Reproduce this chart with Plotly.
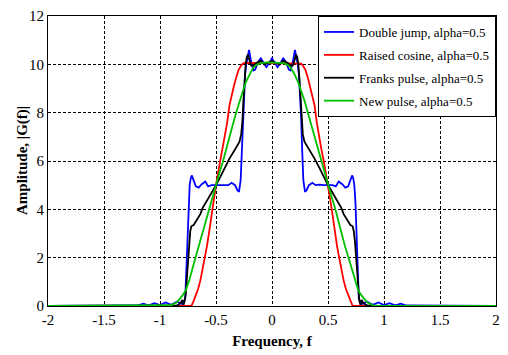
import plotly.graph_objects as go

# ---------------- data ----------------
blue_f = [-2.0, -1.2, -1.15, -1.1, -1.05, -1.0, -0.95, -0.9, -0.85, -0.8, -0.775, -0.765, -0.755,
          -0.745, -0.735, -0.725, -0.715, -0.7, -0.68, -0.655, -0.625, -0.595, -0.57, -0.54, -0.5,
          -0.46, -0.42, -0.39, -0.36, -0.33, -0.31, -0.295, -0.28, -0.27, -0.26, -0.25, -0.24, -0.23,
          -0.215, -0.205, -0.19, -0.165, -0.15, -0.125, -0.1, -0.075, -0.05, -0.025, 0.0,
          0.025, 0.05, 0.075, 0.1, 0.125, 0.15, 0.165, 0.19, 0.205, 0.215, 0.23, 0.24, 0.25, 0.26,
          0.27, 0.28, 0.295, 0.31, 0.33, 0.36, 0.39, 0.42, 0.46, 0.5, 0.54, 0.57, 0.595, 0.625,
          0.655, 0.68, 0.7, 0.715, 0.725, 0.735, 0.745, 0.755, 0.765, 0.775, 0.8, 0.85, 0.9, 0.95,
          1.0, 1.05, 1.1, 1.15, 1.2, 2.0]
blue_g = [0, 0.02, 0.1, 0.03, 0.12, 0.04, 0.15, 0.05, 0.18, 0.08, 0.3, 1.5, 3.0,
          4.3, 5.0, 5.3, 5.4, 5.2, 4.95, 4.9, 5.05, 5.15, 4.95, 5.0, 5.0,
          5.0, 5.02, 5.0, 5.1, 5.0, 4.8, 4.72, 5.2, 6.4, 7.8, 8.9, 9.6, 10.0,
          10.4, 10.6, 10.2, 9.75, 9.78, 10.1, 10.25, 10.05, 9.88, 10.05, 10.25,
          10.05, 9.88, 10.05, 10.25, 10.1, 9.78, 9.75, 10.2, 10.6, 10.4, 10.0, 9.6, 8.9, 7.8,
          6.4, 5.2, 4.72, 4.8, 5.0, 5.1, 5.0, 5.02, 5.0, 5.0, 5.0, 4.95, 5.15, 5.05,
          4.9, 4.95, 5.2, 5.4, 5.3, 5.0, 4.3, 3.0, 1.5, 0.3, 0.08, 0.18, 0.05, 0.15,
          0.04, 0.12, 0.03, 0.1, 0.02, 0]

red_f = [-2.0, -0.72, -0.7, -0.68, -0.66, -0.64, -0.62, -0.6, -0.58, -0.56, -0.54, -0.52, -0.5,
         -0.48, -0.46, -0.44, -0.42, -0.4, -0.38, -0.36, -0.34, -0.32, -0.3, -0.28, -0.26, -0.24,
         -0.2, 0.0, 0.2,
         0.24, 0.26, 0.28, 0.3, 0.32, 0.34, 0.36, 0.38, 0.4, 0.42, 0.44, 0.46, 0.48, 0.5,
         0.52, 0.54, 0.56, 0.58, 0.6, 0.62, 0.64, 0.66, 0.68, 0.7, 0.72, 2.0]
red_g = [0, 0, 0.2, 0.45, 0.7, 1.05, 1.5, 2.0, 2.5, 3.1, 3.8, 4.4, 5.0,
         5.55, 6.05, 6.5, 7.0, 7.6, 8.3, 8.75, 9.1, 9.45, 9.75, 9.92, 10.03, 10.06,
         10.06, 10.06, 10.06,
         10.06, 10.03, 9.92, 9.75, 9.45, 9.1, 8.75, 8.3, 7.6, 7.0, 6.5, 6.05, 5.55, 5.0,
         4.4, 3.8, 3.1, 2.5, 2.0, 1.5, 1.05, 0.7, 0.45, 0.2, 0, 0]

black_f = [-2.0, -0.9, -0.85, -0.82, -0.8, -0.79, -0.78, -0.77, -0.76, -0.75, -0.74, -0.73, -0.72,
           -0.7, -0.68, -0.66, -0.64, -0.62, -0.6, -0.58, -0.56, -0.54, -0.52, -0.5, -0.46, -0.42,
           -0.38, -0.34, -0.31, -0.29, -0.275, -0.265, -0.255, -0.245, -0.235, -0.225, -0.215,
           -0.2, -0.185, -0.165, -0.14, -0.1, -0.07, -0.04, 0.0,
           0.04, 0.07, 0.1, 0.14, 0.165, 0.185, 0.2, 0.215, 0.225, 0.235, 0.245, 0.255, 0.265,
           0.275, 0.29, 0.31, 0.34, 0.38, 0.42, 0.46, 0.5, 0.52, 0.54, 0.56, 0.58, 0.6, 0.62,
           0.64, 0.66, 0.68, 0.7, 0.72, 0.73, 0.74, 0.75, 0.76, 0.77, 0.78, 0.79, 0.8, 0.82,
           0.85, 0.9, 2.0]
black_g = [0, 0, 0.02, 0.1, 0.25, 0.05, 0.2, 0.5, 1.2, 2.0, 2.7, 3.1, 3.3,
           3.35, 3.5, 3.65, 3.8, 4.05, 4.2, 4.35, 4.55, 4.7, 4.85, 5.0, 5.35, 5.75,
           6.1, 6.4, 6.65, 6.8, 7.1, 7.6, 8.5, 9.4, 10.0, 10.3, 10.4,
           10.15, 9.95, 9.95, 10.05, 10.15, 10.0, 10.05, 10.15,
           10.05, 10.0, 10.15, 10.05, 9.95, 9.95, 10.15, 10.4, 10.3, 10.0, 9.4, 8.5, 7.6,
           7.1, 6.8, 6.65, 6.4, 6.1, 5.75, 5.35, 5.0, 4.85, 4.7, 4.55, 4.35, 4.2, 4.05,
           3.8, 3.65, 3.5, 3.35, 3.3, 3.1, 2.7, 2.0, 1.2, 0.5, 0.2, 0.05, 0.25, 0.1,
           0.02, 0, 0]

green_f = [-2.0, -0.95, -0.9, -0.85, -0.82, -0.8, -0.77, -0.74, -0.71, -0.68, -0.65, -0.62, -0.59,
           -0.56, -0.53, -0.5, -0.47, -0.44, -0.41, -0.38, -0.35, -0.32, -0.29, -0.26, -0.23,
           -0.2, -0.17, -0.14, -0.1, -0.05, 0.0,
           0.05, 0.1, 0.14, 0.17, 0.2, 0.23, 0.26, 0.29, 0.32, 0.35, 0.38, 0.41, 0.44, 0.47,
           0.5, 0.53, 0.56, 0.59, 0.62, 0.65, 0.68, 0.71, 0.74, 0.77, 0.8, 0.82, 0.85, 0.9,
           0.95, 2.0]
green_g = [0, 0, 0.03, 0.15, 0.3, 0.43, 0.65, 1.05, 1.55, 2.05, 2.5, 3.0, 3.55,
           4.1, 4.55, 5.0, 5.5, 5.95, 6.5, 7.0, 7.5, 8.0, 8.5, 8.9, 9.3,
           9.6, 9.85, 9.98, 10.05, 10.08, 10.08,
           10.08, 10.05, 9.98, 9.85, 9.6, 9.3, 8.9, 8.5, 8.0, 7.5, 7.0, 6.5, 5.95, 5.5,
           5.0, 4.55, 4.1, 3.55, 3.0, 2.5, 2.05, 1.55, 1.05, 0.65, 0.43, 0.3, 0.15, 0.03,
           0, 0]

series_names = ["Double jump, alpha=0.5", "Raised cosine, alpha=0.5",
                "Franks pulse, alpha=0.5", "New pulse, alpha=0.5"]
x_ticks = [-2, -1.5, -1, -0.5, 0, 0.5, 1, 1.5, 2]
x_tick_labels = ["-2", "-1.5", "-1", "-0.5", "0", "0.5", "1", "1.5", "2"]
y_ticks = [0, 2, 4, 6, 8, 10, 12]

# ---------------- figure ----------------
colors = ["#0000FF", "#FF0000", "#000000", "#00C000"]
data = [(blue_f, blue_g), (red_f, red_g), (black_f, black_g), (green_f, green_g)]

fig = go.Figure()
for i, ((fx, gy), name, c) in enumerate(zip(data, series_names, colors)):
    fig.add_trace(go.Scatter(x=fx, y=gy, mode="lines", name=name, legendgroup=f"g{i}",
                             line=dict(color=c, width=1.8)))

serif = "Liberation Serif"
fig.update_layout(
    width=508, height=355,
    margin=dict(l=48, r=8, t=12, b=46),
    paper_bgcolor="white", plot_bgcolor="white",
    font=dict(family=serif, size=15, color="black"),
    showlegend=True,
    legend=dict(x=1, xanchor="right", y=1, yanchor="top",
                bgcolor="white", bordercolor="black", borderwidth=1,
                font=dict(family=serif, size=13, color="black"),
                tracegroupgap=3, itemwidth=30),
    annotations=[dict(text="<b>Amplitude, |G(f)|</b>", textangle=-90,
                      xref="paper", yref="paper", x=-0.058, y=0.5,
                      xanchor="center", yanchor="middle", showarrow=False,
                      font=dict(family=serif, size=15, color="black"))],
)
fig.update_xaxes(range=[-2, 2], tickvals=x_ticks, ticktext=x_tick_labels,
                 showgrid=True, gridcolor="black", griddash="3px,2px", gridwidth=0.8,
                 showline=True, linecolor="black", linewidth=1, mirror=True,
                 zeroline=False, ticks="", tickfont=dict(family=serif, size=15),
                 title=dict(text="<b>Frequency, f</b>", font=dict(family=serif, size=15),
                            standoff=8))
fig.update_yaxes(range=[0, 12], tickvals=y_ticks,
                 showgrid=True, gridcolor="black", griddash="3px,2px", gridwidth=0.8,
                 showline=True, linecolor="black", linewidth=1, mirror=True,
                 zeroline=False, ticks="", tickfont=dict(family=serif, size=15))

fig.write_html("out.html")
